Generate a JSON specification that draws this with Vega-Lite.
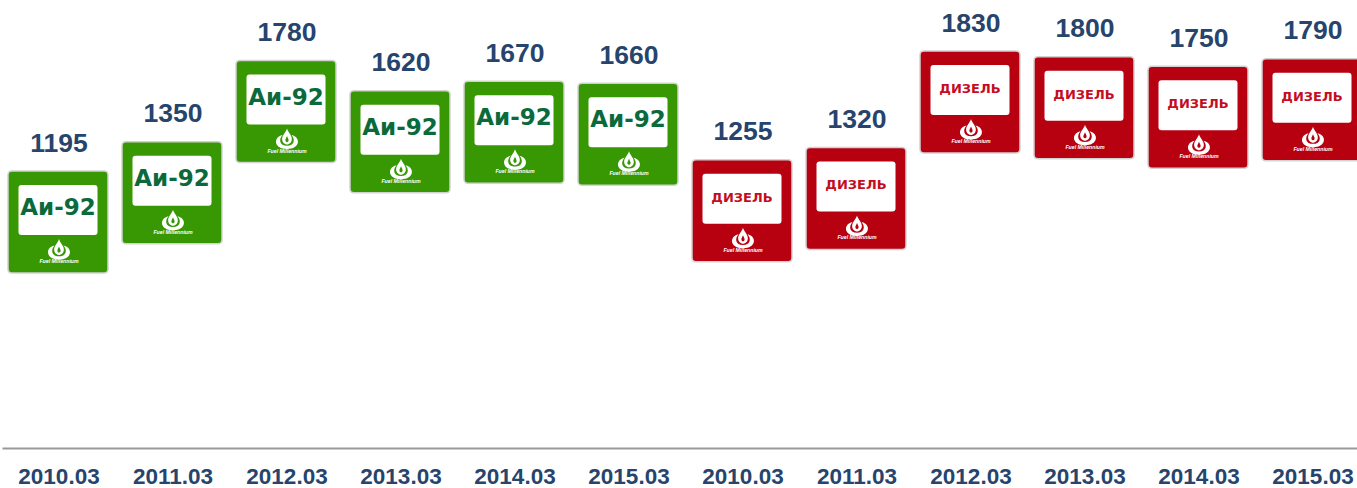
{"$schema":"https://vega.github.io/schema/vega-lite/v6.json","width":1355,"height":448,"autosize":"none","padding":{"left":2,"right":0,"top":0,"bottom":40},"background":"white","config":{"view":{"stroke":null}},"data":{"values":[{"slot":"a|2010.03","fuel":"Аи-92","value":1195},{"slot":"b|2011.03","fuel":"Аи-92","value":1350},{"slot":"c|2012.03","fuel":"Аи-92","value":1780},{"slot":"d|2013.03","fuel":"Аи-92","value":1620},{"slot":"e|2014.03","fuel":"Аи-92","value":1670},{"slot":"f|2015.03","fuel":"Аи-92","value":1660},{"slot":"g|2010.03","fuel":"ДИЗЕЛЬ","value":1255},{"slot":"h|2011.03","fuel":"ДИЗЕЛЬ","value":1320},{"slot":"i|2012.03","fuel":"ДИЗЕЛЬ","value":1830},{"slot":"j|2013.03","fuel":"ДИЗЕЛЬ","value":1800},{"slot":"k|2014.03","fuel":"ДИЗЕЛЬ","value":1750},{"slot":"l|2015.03","fuel":"ДИЗЕЛЬ","value":1790}]},"encoding":{"x":{"field":"slot","type":"nominal","sort":null,"scale":{"type":"band","range":[0,1368],"paddingInner":0,"paddingOuter":0},"axis":{"title":null,"ticks":false,"labelAngle":0,"labelExpr":"split(datum.label,'|')[1]","labelFont":"Liberation Sans","labelFontWeight":"bold","labelFontSize":22.5,"labelColor":"#26446c","labelPadding":17,"labelBaseline":"top","labelOverlap":false,"labelLimit":0,"domainColor":"#999999","domainWidth":2}},"y":{"field":"value","type":"quantitative","scale":{"domain":[0,2370],"nice":false,"zero":true},"axis":null}},"layer":[{"mark":{"type":"point","filled":true,"opacity":1,"size":400,"xOffset":-1,"shape":"M-4.6,-5.1 L4.6,-5.1 Q5,-5.1 5,-4.7 L5,4.7 Q5,5.1 4.6,5.1 L-4.6,5.1 Q-5,5.1 -5,4.7 L-5,-4.7 Q-5,-5.1 -4.6,-5.1 Z","stroke":"#d2d2d2","strokeWidth":1.5},"encoding":{"fill":{"field":"fuel","type":"nominal","legend":null,"scale":{"domain":["Аи-92","ДИЗЕЛЬ"],"range":["#379803","#b70010"]}}}},{"mark":{"type":"point","filled":true,"opacity":1,"size":400,"xOffset":-1,"yOffset":-12,"shape":"M-3.65,-2.5 L3.65,-2.5 Q3.95,-2.5 3.95,-2.2 L3.95,2.2 Q3.95,2.5 3.65,2.5 L-3.65,2.5 Q-3.95,2.5 -3.95,2.2 L-3.95,-2.2 Q-3.95,-2.5 -3.65,-2.5 Z","fill":"white","stroke":null}},{"transform":[{"filter":"datum.fuel == 'Аи-92'"}],"mark":{"type":"text","font":"DejaVu Sans","fontWeight":"bold","fontSize":23,"color":"#0b6a3c","baseline":"middle","align":"center","dy":-14,"dx":-1},"encoding":{"text":{"field":"fuel","type":"nominal"}}},{"transform":[{"filter":"datum.fuel == 'ДИЗЕЛЬ'"}],"mark":{"type":"text","font":"DejaVu Sans","fontWeight":"bold","fontSize":13,"color":"#c40d1e","baseline":"middle","align":"center","dy":-13,"dx":-1},"encoding":{"text":{"field":"fuel","type":"nominal"}}},{"mark":{"type":"point","filled":true,"opacity":1,"size":400,"yOffset":28,"fill":"white","stroke":null,"shape":"M-0.45,-0.45 C-1.4,-0.25 -1.35,0.95 0,0.95 C1.35,0.95 1.4,-0.25 0.45,-0.45 C0.85,0 0.75,0.62 0,0.62 C-0.75,0.62 -0.85,0 -0.45,-0.45 Z M0,-1.1 C0.1,-0.7 0.55,-0.4 0.48,0.05 C0.42,0.4 0.12,0.5 0,0.5 C-0.12,0.5 -0.42,0.4 -0.48,0.05 C-0.55,-0.4 -0.1,-0.7 0,-1.1 Z M0,-0.35 C-0.08,-0.15 -0.2,0 -0.15,0.15 C-0.1,0.3 0.1,0.3 0.15,0.15 C0.2,0 0.08,-0.15 0,-0.35 Z"}},{"mark":{"type":"text","font":"Liberation Sans","fontWeight":"bold","fontStyle":"italic","fontSize":5.2,"color":"white","baseline":"middle","align":"center","dy":39,"dx":0},"encoding":{"text":{"value":"Fuel Millennium"}}},{"mark":{"type":"text","font":"Liberation Sans","fontWeight":"bold","fontSize":26.5,"color":"#26446c","baseline":"middle","align":"center","dy":-78.5},"encoding":{"text":{"field":"value","type":"quantitative"}}}]}
